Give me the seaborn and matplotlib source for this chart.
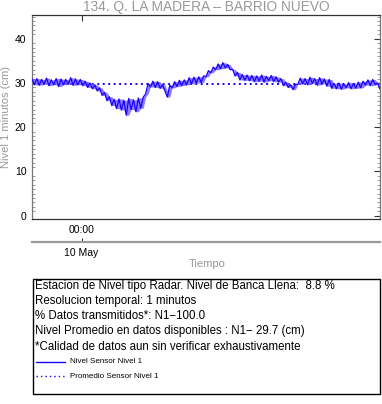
import pandas as pd
import numpy as np
import matplotlib
matplotlib.use('Agg')
import matplotlib.pyplot as plt
import matplotlib.dates as mdates
from matplotlib.lines import Line2D
from matplotlib.patches import Rectangle
import seaborn as sns

# nivel (cm) cada 10 minutos
nivel = [
    30.9, 29.6, 31.0, 29.5, 30.8, 29.7, 31.1, 29.4, 30.7, 29.6, 31.0, 29.2, 30.9, 29.6, 30.8, 29.7, 31.2, 29.5, 30.9, 29.6, 30.8, 29.4,
    30.4, 29.0, 30.0, 28.7, 29.6, 28.2,
    28.9, 27.2, 27.9, 26.0,
    26.9, 24.9, 26.3, 24.2,
    26.4, 23.9, 26.1, 22.7, 26.5, 24.0, 26.2, 23.5,
    26.6, 24.3, 26.8,
    27.5, 29.9,
    29.1, 30.4, 29.0, 30.3, 28.8,
    29.6, 28.2, 26.8, 29.5,
    28.9, 30.3, 29.2, 30.6, 29.4, 30.7, 29.6,
    31.2, 29.8, 31.3, 30.0, 31.4, 30.1, 31.6,
    31.4, 32.8, 32.3, 33.6,
    33.0, 34.3, 33.2, 34.6, 33.4, 34.2, 33.0,
    33.1, 31.6, 32.4,
    30.7, 31.9, 30.6, 31.8, 30.5,
    31.7, 30.3, 31.6, 30.4, 31.8, 30.2, 31.5, 30.5, 31.7, 30.3, 31.4, 30.2, 31.0,
    29.4, 30.2, 29.0, 29.6, 28.5, 29.7,
    29.7, 31.1, 29.8, 31.0, 29.6, 31.3, 29.9, 31.0, 29.5, 31.2, 29.8, 30.9, 29.3, 30.8,
    28.8, 29.9, 28.7, 30.0, 28.6, 29.8, 28.9, 30.1, 28.7, 29.9, 28.8, 30.2, 28.9, 30.4,
    29.5, 30.7, 29.4, 30.8, 29.6,
    30.0, 28.6,
]
promedio = 29.7
inicio = '2024-05-09 20:35'

titulo = '134. Q. LA MADERA \u2013 BARRIO NUEVO'
info = [
    'Estacion de Nivel tipo Radar. Nivel de Banca Llena:  8.8 %',
    'Resolucion temporal: 1 minutos',
    '% Datos transmitidos*: N1\u2212100.0',
    'Nivel Promedio en datos disponibles : N1\u2212 29.7 (cm)',
    '*Calidad de datos aun sin verificar exhaustivamente',
]
leyenda = ['Nivel Sensor Nivel 1', 'Promedio Sensor Nivel 1']

tiempo = pd.date_range(inicio, periods=len(nivel), freq='10min')
df = pd.DataFrame({'Tiempo': tiempo, 'Nivel': nivel})
# banda de variacion minuto a minuto
alto = df['Nivel'].rolling(2, min_periods=1).max()
bajo = df['Nivel'].rolling(2, min_periods=1).min()

sns.set_style('white')
plt.rcParams['font.family'] = ['Liberation Sans', 'DejaVu Sans']

W, H = 382, 404
fig = plt.figure(figsize=(W / 100, H / 100), dpi=100)
ax = fig.add_axes([32 / W, 1 - 219 / H, 348 / W, (219 - 15.3) / H])

azul = '#1e00ff'
ax.plot([tiempo[0], tiempo[-1]], [promedio, promedio], color=azul, lw=1.4,
        linestyle=(0, (1, 1.8)), zorder=1)
ax.fill_between(tiempo, bajo, alto, color='#6a5cff', lw=0, alpha=0.8, zorder=2)
sns.lineplot(data=df, x='Tiempo', y='Nivel', ax=ax, color=azul, lw=0.9, zorder=3)

ax.set_xlim(tiempo[0], tiempo[-1])
ax.set_ylim(-0.75, 45.3)
ax.set_xlabel('')
ax.set_ylabel('')

ax.set_yticks([0, 10, 20, 30, 40])
ax.yaxis.set_minor_locator(matplotlib.ticker.MultipleLocator(1))
ax.xaxis.set_major_locator(mdates.DayLocator())
ax.xaxis.set_major_formatter(mdates.DateFormatter('%H:%M'))
ax.tick_params(axis='both', which='major', direction='in', length=4, width=0.8,
               labelsize=7.5, top=True, right=True, pad=4, colors='#333333',
               labelcolor='black')
ax.tick_params(axis='y', which='minor', direction='in', length=2.5, width=0.6,
               left=True, right=True, colors='#888888')
for s in ax.spines.values():
    s.set_color('#333333')
    s.set_linewidth(0.9)
ax.spines['left'].set_color('#777777')
ax.spines['right'].set_color('#777777')

# eje de fechas
sec = ax.secondary_xaxis((219 - 242) / (219 - 15.3))
sec.xaxis.set_major_locator(mdates.DayLocator())
sec.xaxis.set_major_formatter(mdates.DateFormatter('%-d %b'))
sec.tick_params(direction='in', length=3, width=0.8, labelsize=7.5, pad=4,
                colors='#333333', labelcolor='black')
sec.spines['bottom'].set_color('#999999')
sec.spines['bottom'].set_linewidth(1.6)

gris = '#999999'
fig.text(206 / W, 1 - 7 / H, titulo, ha='center', va='center', fontsize=9.9, color=gris)
fig.text(207 / W, 1 - 264 / H, 'Tiempo', ha='center', va='center', fontsize=8, color=gris)
fig.text(6 / W, 1 - 117 / H, 'Nivel 1 minutos (cm)', ha='center', va='center',
         rotation=90, fontsize=8, color=gris)

# cuadro de informacion
fig.add_artist(Rectangle((32.5 / W, 1 - 393.5 / H), 347.5 / W, 115 / H,
                         transform=fig.transFigure, fill=False, ec='black', lw=1.0))
for k, linea in enumerate(info):
    fig.text(35 / W, 1 - (285.7 + 15.2 * k) / H, linea, ha='left', va='center',
             fontsize=8.3, color='black')
for k, (txt, ls) in enumerate(zip(leyenda, ['-', (0, (1, 2.2))])):
    yy = 1 - (361.7 + 14.5 * k) / H
    fig.add_artist(Line2D([36 / W, 65 / W], [yy, yy], transform=fig.transFigure,
                          color=azul, lw=1.0, linestyle=ls))
    fig.text(70.5 / W, yy, txt, ha='left', va='center', fontsize=5.8, color='black')

fig.savefig('out.png', dpi=100)
